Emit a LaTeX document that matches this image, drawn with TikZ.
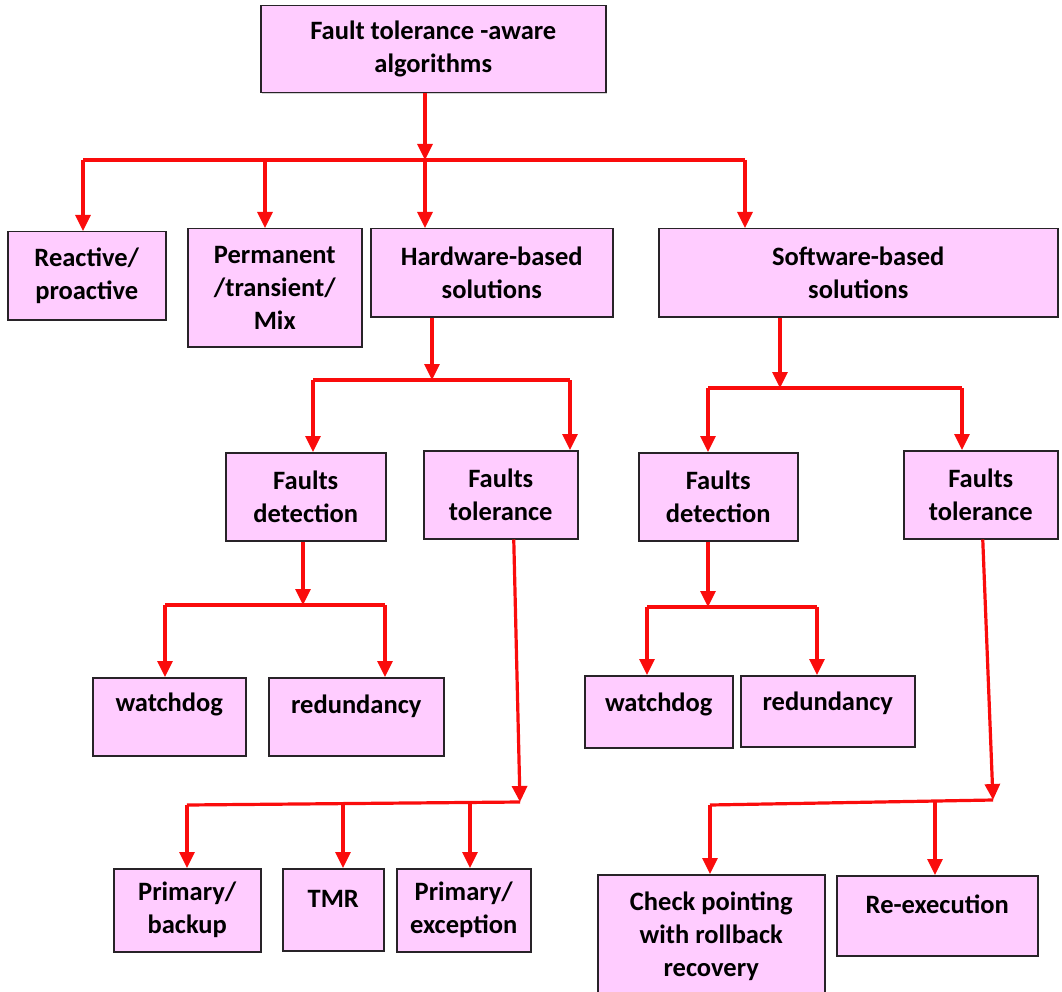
\documentclass[tikz,border=0pt]{standalone}
\usepackage{fontspec}
\setmainfont{Carlito}
\usetikzlibrary{arrows.meta,shadows}
\definecolor{boxpink}{RGB}{255,204,255}
\definecolor{boxline}{RGB}{40,35,40}
\definecolor{arrowred}{RGB}{250,12,12}
\begin{document}
\begin{tikzpicture}[x=1pt,y=-1pt,
  box/.style={draw=boxline, line width=1.5pt, fill=boxpink, anchor=north west,
    align=center, inner sep=2pt, font=\fontsize{26.5}{33}\selectfont\bfseries,
    drop shadow={shadow xshift=1.2pt, shadow yshift=-1.2pt, opacity=0.35}},
  wire/.style={draw=arrowred, line width=3.2pt},
  arr/.style={wire, -{Triangle[length=16pt,width=15pt]}}]
\useasboundingbox (0,0) rectangle (1062,992);

% level 0
\node[box, minimum width=345, minimum height=87] (top) at (260,5) {Fault tolerance -aware\\algorithms};

% level 1
\node[box, minimum width=158, minimum height=88] (react) at (7,231) {Reactive/\\proactive};
\node[box, minimum width=174, minimum height=118] (perm) at (187,228) {Permanent\\/transient/\\Mix};
\node[box, minimum width=242, minimum height=88] (hw) at (370,228) {Hardware-based\\solutions};
\node[box, minimum width=399, minimum height=88] (sw) at (658,228) {Software-based\\solutions};

% level 2
\node[box, minimum width=160, minimum height=88] (hwfd) at (225,452) {Faults\\detection};
\node[box, minimum width=154, minimum height=88] (hwft) at (423,450) {Faults\\tolerance};
\node[box, minimum width=159, minimum height=88] (swfd) at (638,452) {Faults\\detection};
\node[box, minimum width=154, minimum height=88] (swft) at (903,450) {Faults\\tolerance};

% level 3: detection
\node[box, minimum width=153, minimum height=78, text depth=30pt] (hwwd) at (92,677) {watchdog};
\node[box, minimum width=175, minimum height=78, text depth=26pt] (hwred) at (268,677) {redundancy};
\node[box, minimum width=148, minimum height=72, text depth=20pt] (swwd) at (584,675) {watchdog};
\node[box, minimum width=174, minimum height=71, text depth=20pt] (swred) at (740,675) {redundancy};

% level 3: tolerance
\node[box, minimum width=147, minimum height=83] (pb) at (113,868) {Primary/\\backup};
\node[box, minimum width=101, minimum height=82, text depth=22pt] (tmr) at (282,868) {TMR};
\node[box, minimum width=134, minimum height=83] (pe) at (396,868) {Primary/\\exception};
\node[box, minimum width=227, minimum height=124] (cp) at (597,874) {Check pointing\\with rollback\\recovery};
\node[box, minimum width=201, minimum height=80, text depth=24pt] (rex) at (836,875) {Re-execution};

% bus junctions
\coordinate (b0) at (425,160);
\coordinate (b0l) at (83,160);
\coordinate (b0m) at (265,160);
\coordinate (b0r) at (745,160);

\coordinate (b1) at (432,380);
\coordinate (b1l) at (313,380);
\coordinate (b1r) at (570,380);

\coordinate (b2) at (780,388);
\coordinate (b2l) at (708,388);
\coordinate (b2r) at (962,388);

\coordinate (b3) at (303,605);
\coordinate (b3l) at (165,605);
\coordinate (b3r) at (385,605);

\coordinate (b4) at (708,607);
\coordinate (b4l) at (647,607);
\coordinate (b4r) at (817,607);

\coordinate (b5) at (520,802);
\coordinate (b5l) at (187,805);
\coordinate (b5m) at (343,804);
\coordinate (b5n) at (470,803);

\coordinate (b6) at (993,800);
\coordinate (b6l) at (710,805);
\coordinate (b6m) at (935,802);

% top fan-out
\draw[arr] (b0 |- top.south) -- (b0);
\draw[wire] (b0l) -- (b0r);
\draw[arr] (b0l) -- (b0l |- react.north);
\draw[arr] (b0m) -- (b0m |- perm.north);
\draw[arr] (b0) -- (b0 |- hw.north);
\draw[arr] (b0r) -- (b0r |- sw.north);

% hardware branch
\draw[arr] (b1 |- hw.south) -- (b1);
\draw[wire] (b1l) -- (b1r);
\draw[arr] (b1l) -- (b1l |- hwfd.north);
\draw[arr] (b1r) -- (b1r |- hwft.north);

% software branch
\draw[arr] (b2 |- sw.south) -- (b2);
\draw[wire] (b2l) -- (b2r);
\draw[arr] (b2l) -- (b2l |- swfd.north);
\draw[arr] (b2r) -- (b2r |- swft.north);

% hardware detection
\draw[arr] (b3 |- hwfd.south) -- (b3);
\draw[wire] (b3l) -- (b3r);
\draw[arr] (b3l) -- (b3l |- hwwd.north);
\draw[arr] (b3r) -- (b3r |- hwred.north);

% software detection
\draw[arr] (b4 |- swfd.south) -- (b4);
\draw[wire] (b4l) -- (b4r);
\draw[arr] (b4l) -- (b4l |- swwd.north);
\draw[arr] (b4r) -- (b4r |- swred.north);

% hardware tolerance
\draw[arr] ([xshift=13pt]hwft.south) -- (b5);
\draw[wire] (b5l) -- (b5);
\draw[arr] (b5l) -- (b5l |- pb.north);
\draw[arr] (b5m) -- (b5m |- tmr.north);
\draw[arr] (b5n) -- (b5n |- pe.north);

% software tolerance
\draw[arr] ([xshift=2pt]swft.south) -- (b6);
\draw[wire] (b6l) -- (b6);
\draw[arr] (b6l) -- (b6l |- cp.north);
\draw[arr] (b6m) -- (b6m |- rex.north);
\end{tikzpicture}
\end{document}
